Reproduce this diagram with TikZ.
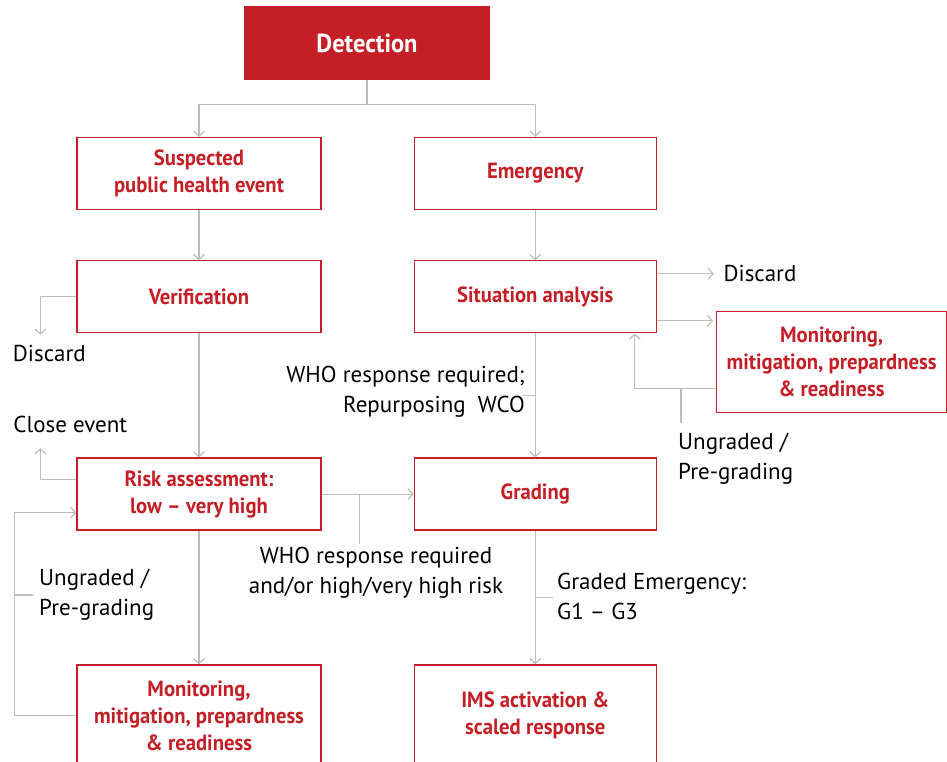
\documentclass[tikz,border=0pt]{standalone}
\usepackage{fontspec}
\setmainfont{PT Sans}
\newfontfamily\boxfont[FakeStretch=0.94]{PT Sans}
\usetikzlibrary{arrows.meta, positioning, calc}
\definecolor{whored}{HTML}{C41F26}
\definecolor{linegray}{HTML}{BDBDBD}

\begin{document}
\begin{tikzpicture}[
    x=1pt, y=-1pt,
    detect/.style={rectangle, fill=whored, text=white, minimum width=246pt, minimum height=74pt, inner sep=0pt, font=\boxfont\bfseries\fontsize{26}{30}\selectfont},
    event/.style={rectangle, draw=whored, line width=1.3pt, text=whored, minimum width=244pt, minimum height=72pt, inner sep=0pt, align=center, font=\boxfont\bfseries\fontsize{22}{27}\selectfont},
    tall/.style={minimum height=101pt},
    note/.style={inner sep=2pt, align=left, font=\fontsize{23}{30}\selectfont},
    flow/.style={draw=linegray, line width=1.2pt, -{Straight Barb[length=5pt, width=11pt]}},
    tick/.style={draw=linegray, line width=1.2pt}
]
\useasboundingbox (0,0) rectangle (947,761);

% Boxes
\node[detect] (detection) at (367,43) {Detection};
\node[event] (suspected) at (199,173.5) {Suspected\\public health event};
\node[event, minimum width=242pt, right=92pt of suspected] (emergency) {Emergency};
\node[event, below=50pt of suspected] (verification) {Verification};
\node[event, minimum width=242pt, below=50pt of emergency] (situation) {Situation analysis};
\node[event, below=124pt of verification] (risk) {Risk assessment:\\low – very high};
\node[event, minimum width=242pt, below=124pt of situation] (grading) {Grading};
\node[event, tall, below=133.5pt of risk] (monitorB) {Monitoring,\\mitigation, prepardness\\\& readiness};
\node[event, tall, minimum width=242pt, below=133.5pt of grading] (ims) {IMS activation \&\\scaled response};
\node[event, tall, minimum width=230pt, anchor=north west] (monitorR) at (716,311) {Monitoring,\\mitigation, prepardness\\\& readiness};

% Side notes
\node[note, anchor=east, align=right] (whoS) at (527,392) {WHO response required;\\Repurposing~~WCO};
\node[note, align=center] (whoR) at (376,573) {WHO response required\\and/or high/very high risk};
\node[note, anchor=west] (ungradedL) at (37,595) {Ungraded /\\Pre-grading};
\node[note, anchor=west] (ungradedR) at (676,459) {Ungraded /\\Pre-grading};
\node[note, anchor=west] (gradedE) at (555,596) {Graded Emergency:\\G1 – G3};

% Detection splits
\draw[flow] (detection.south) -- ++(0,24) -| (suspected.north);
\draw[flow] (detection.south) -- ++(0,24) -| (emergency.north);

% Left column
\draw[flow] (suspected) -- (verification);
\draw[flow] (verification.west) -| ++(-36,38) node[note, below, xshift=9pt, yshift=-8pt] (discardV) {Discard};
\draw[flow] (verification) -- (risk);
\draw[flow] ([yshift=15pt]risk.west) -| ++(-36,-31) node[note, above, xshift=30pt, yshift=13pt] (closeL) {Close event};
\draw[flow] (monitorB.west) -- ++(-62,0) coordinate (loopL) |- ([yshift=-18.5pt]risk.west);
\draw[tick] (loopL |- ungradedL.west) -- ++(19,0);
\draw[flow] (risk) -- (monitorB);
\draw[flow] (risk) -- (grading);
\draw[tick] ($(risk.east)!0.41!(grading.west)$) -- ++(0,50);

% Right column
\draw[flow] (emergency) -- (situation);
\draw[flow] (situation) -- (grading);
\draw[tick] ($(situation.south)!0.5!(grading.north)$) -- ++(-12,0);
\draw[flow] ([yshift=23pt]situation.east) -- ++(57,0) node[note, right, xshift=7pt] (discardS) {Discard};
\draw[flow, shorten >=3pt] ([yshift=-24pt]situation.east) -- ([yshift=-24pt]situation.east -| monitorR.west);
\draw[flow] ([yshift=-26.5pt]monitorR.west) -| ([xshift=99.5pt]situation.south);
\draw[tick] ([xshift=-35pt, yshift=-26.5pt]monitorR.west) -- ++(0,34);
\draw[flow] (grading) -- (ims);
\draw[tick] ($(grading.south)!0.5!(ims.north)$) -- ++(18,0);

\end{tikzpicture}
\end{document}
